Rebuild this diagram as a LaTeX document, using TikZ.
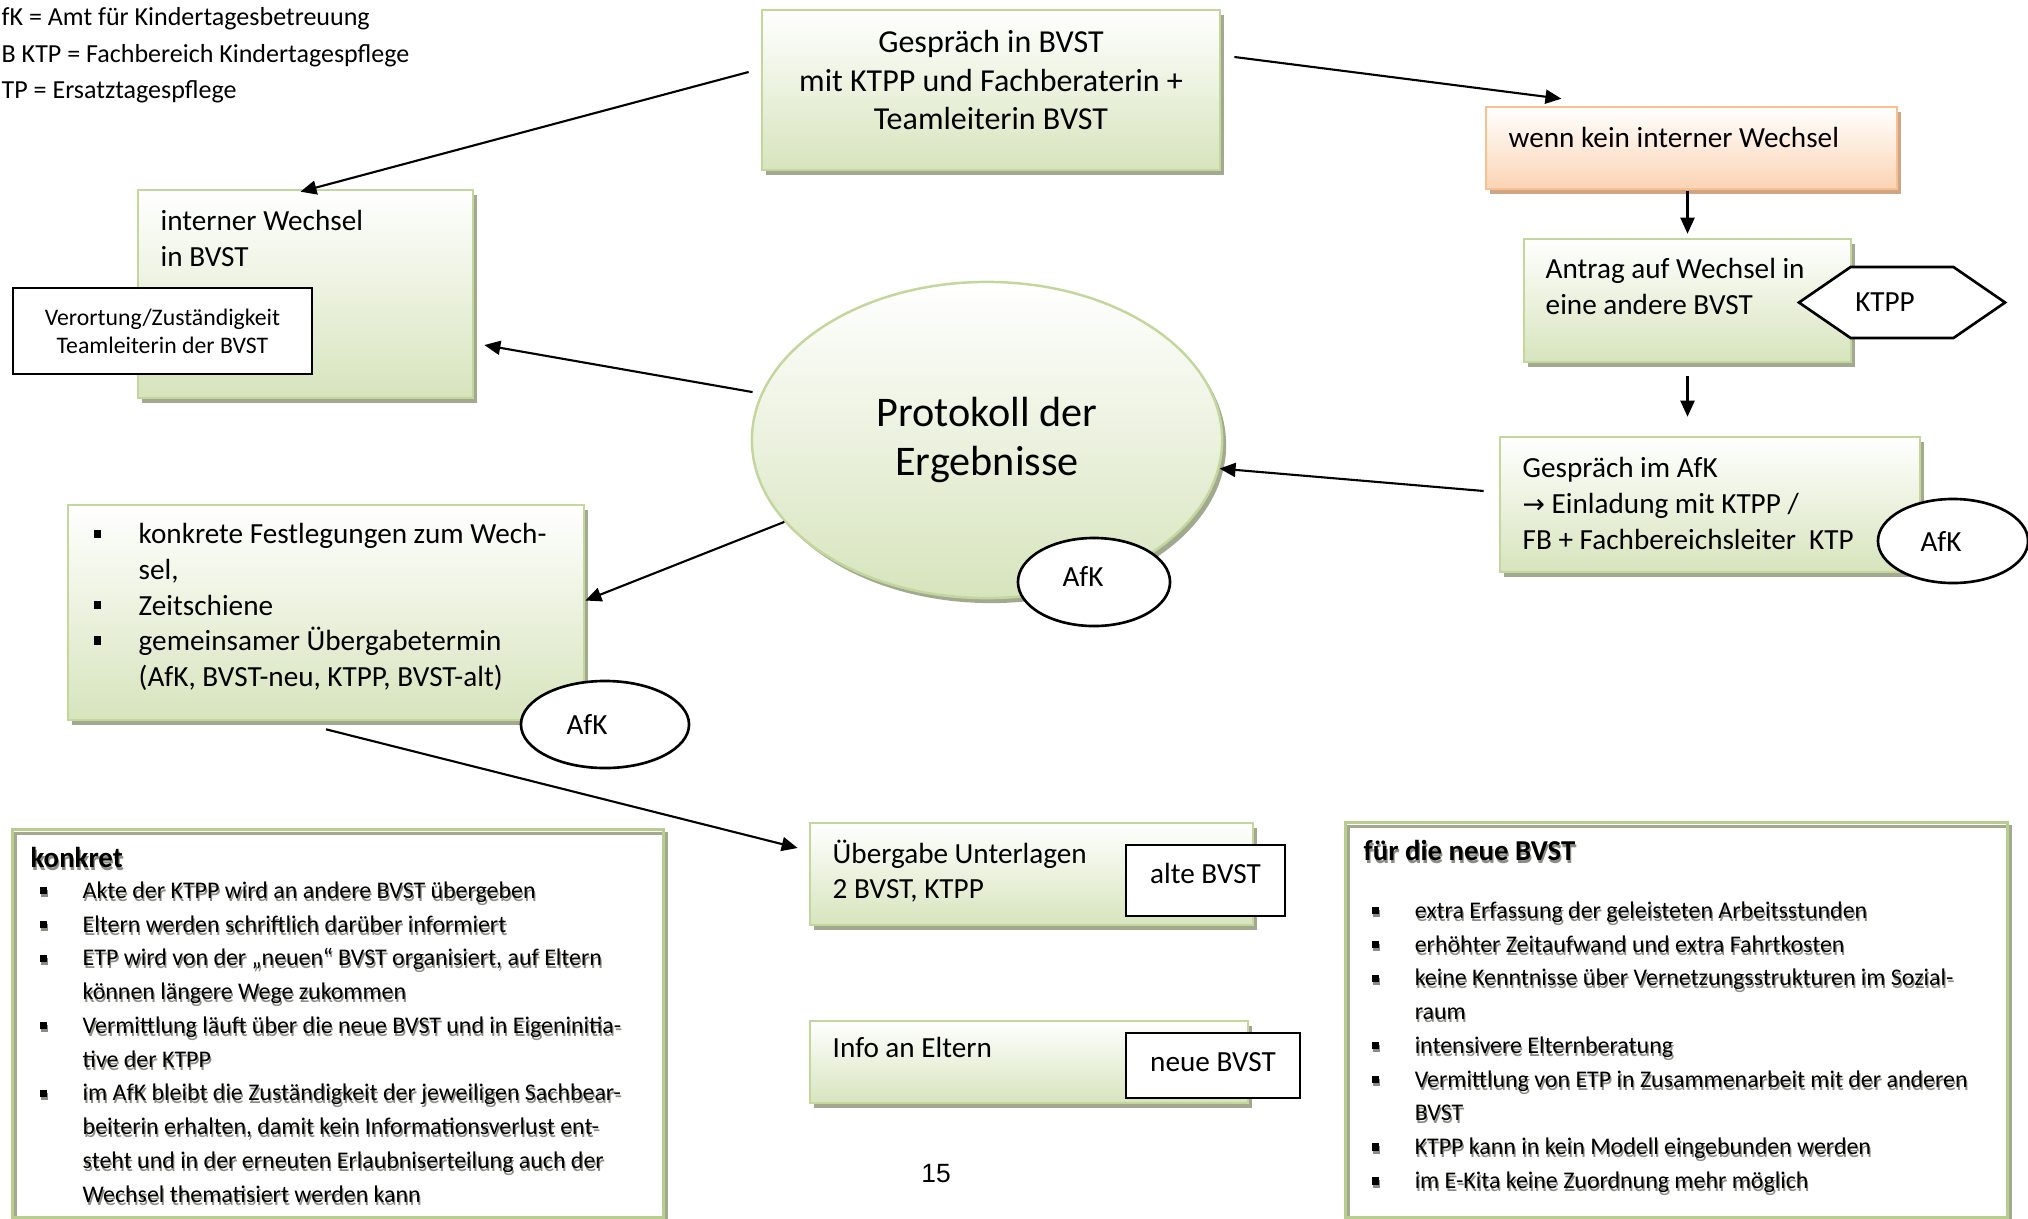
\documentclass[tikz,border=0pt]{standalone}
\usepackage{fontspec}
\setmainfont{Carlito}
\newfontfamily\arialfont{Liberation Sans}
\newfontfamily\symfont{DejaVu Sans}
\usepackage{xcolor}
\usepackage{tikz}
\usetikzlibrary{arrows.meta,shapes.geometric,shapes.symbols,shadows}

\definecolor{boxfill}{HTML}{D7E4BD}
\definecolor{boxline}{HTML}{C3D69B}
\definecolor{boxshade}{HTML}{A3A890}
\definecolor{orfill}{HTML}{FBD4B4}
\definecolor{orline}{HTML}{FAC090}
\definecolor{orshade}{HTML}{CDA688}
\definecolor{listline}{HTML}{B9CD8F}
\definecolor{txtshade}{HTML}{8C8C84}

\newcommand{\shd}[1]{\leavevmode\rlap{\kern0.35pt\raisebox{-0.85pt}{\textcolor{txtshade}{#1}}}#1}
\newcommand{\lbul}{\makebox[0.43cm][l]{\shd{\rule[1.1pt]{2pt}{2.1pt}}}}
\newcommand{\lind}{\hspace*{0.43cm}}
\newcommand{\fbul}{\makebox[0.45cm][l]{\rule[1.7pt]{2.1pt}{2.4pt}}}
\newcommand{\find}{\hspace*{0.45cm}}

\begin{document}
\begin{tikzpicture}[
    x=0.01cm,
    y=-0.01cm,
    every node/.style={inner sep=0pt, font=\fontsize{8.3}{10.1}\selectfont},
    gbox/.style={draw=boxline, line width=0.7pt, top color=white, bottom color=boxfill,
      drop shadow={shadow xshift=0.04cm, shadow yshift=-0.05cm, fill=boxshade, opacity=1}},
    obox/.style={draw=orline, line width=0.7pt, top color=white, bottom color=orfill,
      drop shadow={shadow xshift=0.04cm, shadow yshift=-0.05cm, fill=orshade, opacity=1}},
    wbox/.style={draw, fill=white, line width=0.75pt},
    oval/.style={ellipse, draw, fill=white, line width=0.75pt},
    lbox/.style={draw=listline, line width=0.8pt,
      drop shadow={shadow xshift=0.03cm, shadow yshift=-0.04cm, fill=none, draw=boxshade, line width=0.8pt, opacity=1}},
    txt/.style={anchor=north west, align=left},
    listtxt/.style={txt, font=\fontsize{6.8}{9.6}\selectfont},
    listhead/.style={txt, font=\bfseries\fontsize{8.2}{10}\selectfont},
    arrow/.style={-{Triangle[length=0.16cm, width=0.14cm]}, line width=0.6pt}
]
\useasboundingbox (0,0) rectangle (2028,1218);

\node[txt, font=\fontsize{7.4}{10.38}\selectfont] (legend) at (1,7)
  {fK = Amt für Kindertagesbetreuung\\B KTP = Fachbereich Kindertagespflege\\TP = Ersatztagespflege};

\node[gbox, minimum width=4.58cm, minimum height=1.60cm] (talk) at (991,90) {};
\node[anchor=north, align=center, font=\fontsize{9.1}{10.95}\selectfont] (talk-t) at (991,30)
  {Gespräch in BVST\\mit KTPP und Fachberaterin +\\Teamleiterin BVST};

\node[obox, minimum width=4.11cm, minimum height=0.82cm] (wenn) at (1691.5,148) {};
\node[txt] (wenn-t) at (1508,127) {wenn kein interner Wechsel};

\node[gbox, minimum width=3.27cm, minimum height=1.23cm] (antrag) at (1687.5,300.5) {};
\node[txt] (antrag-t) at (1545,258) {Antrag auf Wechsel in\\eine andere BVST};
\node[signal, signal to=west and east, signal pointer angle=69, draw, fill=white, line width=0.75pt,
  minimum width=2.06cm, minimum height=0.71cm] (ktpp) at (1902,302.5) {KTPP\kern0.34cm};

\node[gbox, minimum width=4.20cm, minimum height=1.35cm] (gespr) at (1710,504.5) {};
\node[txt] (gespr-t) at (1522,457)
  {Gespräch im AfK\\{\symfont\fontsize{7.6}{10.1}\selectfont →} Einladung mit KTPP /\\FB + Fachbereichsleiter\ \ KTP};
\node[oval, minimum width=1.50cm, minimum height=0.84cm] (afk3) at (1953,541) {AfK\kern0.24cm};

\node[gbox, minimum width=3.35cm, minimum height=2.08cm] (intern) at (305.5,294) {};
\node[txt] (intern-t) at (160,210) {interner Wechsel\\in BVST};
\node[wbox, align=center, minimum width=2.99cm, minimum height=0.86cm, font=\fontsize{6.75}{8}\selectfont]
  (verort) at (162.5,331) {Verortung/Zuständigkeit\\Teamleiterin der BVST};

\node[gbox, ellipse, minimum width=4.70cm, minimum height=3.16cm, align=center,
  font=\fontsize{12}{14.2}\selectfont] (proto) at (987,440) {Protokoll der\\Ergebnisse};
\node[oval, minimum width=1.52cm, minimum height=0.88cm, text depth=0.12cm] (afk1) at (1094,582) {AfK\kern0.22cm};

\node[gbox, minimum width=5.16cm, minimum height=2.15cm] (fest) at (326,612.5) {};
\node[txt] (fest-t) at (93,523)
  {\fbul konkrete Festlegungen zum Wech-\\\find sel,\\\fbul Zeitschiene\\\fbul gemeinsamer Übergabetermin\\\find (AfK, BVST-neu, KTPP, BVST-alt)};
\node[oval, minimum width=1.68cm, minimum height=0.87cm] (afk2) at (605,724.5) {AfK\kern0.36cm};

\node[gbox, minimum width=4.43cm, minimum height=1.02cm] (ueber) at (1031.5,874) {};
\node[txt] (ueber-t) at (832,839) {Übergabe Unterlagen\\2 BVST, KTPP};
\node[wbox, minimum width=1.59cm, minimum height=0.71cm, text depth=0.15cm] (alte) at (1205.5,880.5) {alte BVST};

\node[gbox, minimum width=4.38cm, minimum height=0.82cm] (info) at (1029,1062) {};
\node[txt] (info-t) at (832,1037) {Info an Eltern};
\node[wbox, minimum width=1.74cm, minimum height=0.65cm, text depth=0.07cm] (neue) at (1213,1065.5) {neue BVST};

\node[lbox, minimum width=6.50cm, minimum height=3.87cm] (konkret) at (338,1023.5) {};
\node[listhead] (konkret-h) at (30,847) {\shd{konkret}};
\node[listtxt] (konkret-t) at (39,881)
  {\lbul\shd{Akte der KTPP wird an andere BVST übergeben}\\
   \lbul\shd{Eltern werden schriftlich darüber informiert}\\
   \lbul\shd{ETP wird von der „neuen“ BVST organisiert, auf Eltern}\\
   \lind\shd{können längere Wege zukommen}\\
   \lbul\shd{Vermittlung läuft über die neue BVST und in Eigeninitia-}\\
   \lind\shd{tive der KTPP}\\
   \lbul\shd{im AfK bleibt die Zuständigkeit der jeweiligen Sachbear-}\\
   \lind\shd{beiterin erhalten, damit kein Informationsverlust ent-}\\
   \lind\shd{steht und in der erneuten Erlaubniserteilung auch der}\\
   \lind\shd{Wechsel thematisiert werden kann}};

\node[lbox, minimum width=6.61cm, minimum height=3.94cm] (neu) at (1676.5,1020) {};
\node[listhead] (neu-h) at (1363,840) {\shd{für die neue BVST}};
\node[listtxt] (neu-t) at (1371,901)
  {\lbul\shd{extra Erfassung der geleisteten Arbeitsstunden}\\
   \lbul\shd{erhöhter Zeitaufwand und extra Fahrtkosten}\\
   \lbul\shd{keine Kenntnisse über Vernetzungsstrukturen im Sozial-}\\
   \lind\shd{raum}\\
   \lbul\shd{intensivere Elternberatung}\\
   \lbul\shd{Vermittlung von ETP in Zusammenarbeit mit der anderen}\\
   \lind\shd{BVST}\\
   \lbul\shd{KTPP kann in kein Modell eingebunden werden}\\
   \lbul\shd{im E-Kita keine Zuordnung mehr möglich}};

\node[anchor=base, font=\arialfont\fontsize{7.5}{9}\selectfont] (page) at (936,1182) {15};

\draw[arrow] ([xshift=-0.12cm,yshift=0.18cm]talk.west) -- ([xshift=-0.05cm,yshift=-0.03cm]intern.north);
\draw[arrow] ([xshift=0.13cm,yshift=0.33cm]talk.east) -- ([xshift=-1.30cm,yshift=0.07cm]wenn.north);
\draw[arrow, shorten <=0.01cm, shorten >=0.04cm] (wenn.south -| antrag.north) -- (antrag.north);
\draw[arrow, shorten <=0.13cm, shorten >=0.19cm] (antrag.south) -- (antrag.south |- gespr.north);
\draw[arrow] ([xshift=-0.15cm,yshift=0.135cm]gespr.west) -- (proto.-7);
\draw[arrow] ([xshift=-0.09cm]proto.168) -- ([xshift=0.10cm,yshift=-0.51cm]intern.east);
\draw[arrow] (proto.202) -- ([yshift=0.12cm]fest.east);
\draw[arrow] ([yshift=-0.08cm]fest.south) -- ([xshift=-0.11cm,yshift=0.26cm]ueber.west);
\end{tikzpicture}
\end{document}
